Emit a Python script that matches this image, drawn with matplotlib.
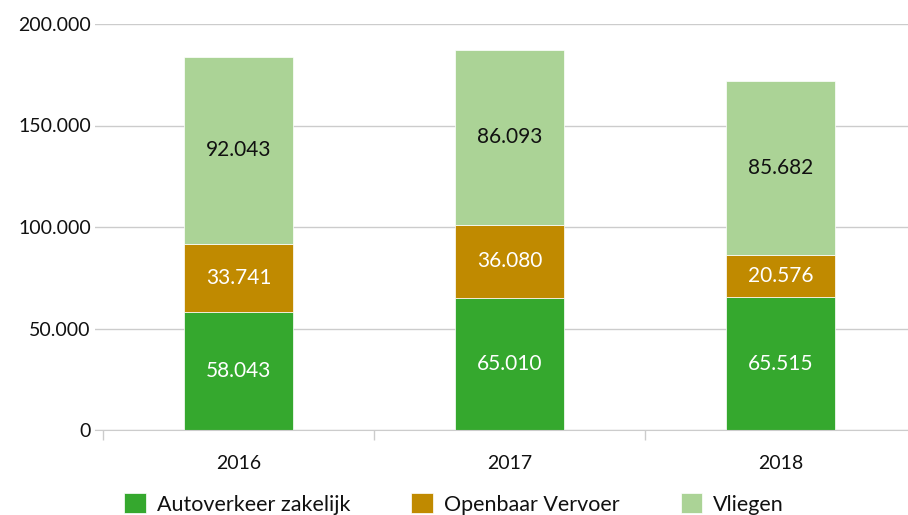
import numpy as np
import matplotlib.pyplot as plt
from matplotlib.ticker import FuncFormatter

plt.rcParams['font.family'] = ['Lato', 'DejaVu Sans']

# gegevens
jaren = ['2016', '2017', '2018']
auto = [58043, 65010, 65515]
ov = [33741, 36080, 20576]
vliegen = [92043, 86093, 85682]

series = ['Autoverkeer zakelijk', 'Openbaar Vervoer', 'Vliegen']
kleuren = ['#35a82e', '#c08a00', '#abd396']
tekstkleur = ['white', 'white', '#111111']

W, H = 908, 515
fig = plt.figure(figsize=(W / 100, H / 100), dpi=100)
# assen in pixels: links 95, rechts 908, onder 430, boven 24
ax = fig.add_axes([95 / W, (H - 430) / H, (908 - 95) / W, (430 - 24) / H])

x = np.arange(len(jaren))
bottom = np.zeros(len(jaren))
for vals, naam, kleur, tk in zip([auto, ov, vliegen], series, kleuren, tekstkleur):
    bars = ax.bar(x, vals, bottom=bottom, width=0.4, color=kleur, label=naam,
                  edgecolor='white', linewidth=0.5, zorder=2)
    for b, v, onder in zip(bars, vals, bottom):
        ax.text(b.get_x() + b.get_width() / 2, onder + v / 2,
                f'{v:,}'.replace(',', '.'), ha='center', va='center',
                color=tk, fontsize=15, zorder=3)
    bottom += np.array(vals)

ax.set_ylim(0, 200000)
ax.set_xlim(-0.5 - 8 / 271, -0.5 + (908 - 103) / 271)
ax.set_yticks(np.arange(0, 200001, 50000))
ax.yaxis.set_major_formatter(FuncFormatter(lambda v, p: f'{int(v):,}'.replace(',', '.')))
ax.grid(axis='y', color='#cccccc', linewidth=1, zorder=0)
ax.tick_params(axis='y', length=0, pad=3, labelsize=14, labelcolor='#111111')

# x-as: streepjes tussen de categorieën, labels in het midden
ax.set_xticks([-0.5, 0.5, 1.5])
ax.set_xticklabels([])
ax.set_xticks(x, minor=True)
ax.set_xticklabels(jaren, minor=True)
ax.tick_params(axis='x', which='major', length=7, color='#cccccc', width=1)
ax.tick_params(axis='x', which='minor', length=0, pad=18, labelsize=14, labelcolor='#111111')

for s in ['top', 'right', 'left']:
    ax.spines[s].set_visible(False)
ax.spines['bottom'].set_color('#cccccc')
ax.spines['bottom'].set_zorder(4)

fig.legend(loc='center', bbox_to_anchor=(0.5, 11 / H), ncol=3, frameon=False,
           fontsize=15.5, handlelength=1.0, handleheight=1.0, handletextpad=0.5,
           columnspacing=2.85, labelcolor='#111111')

plt.savefig('out.png', dpi=100)
